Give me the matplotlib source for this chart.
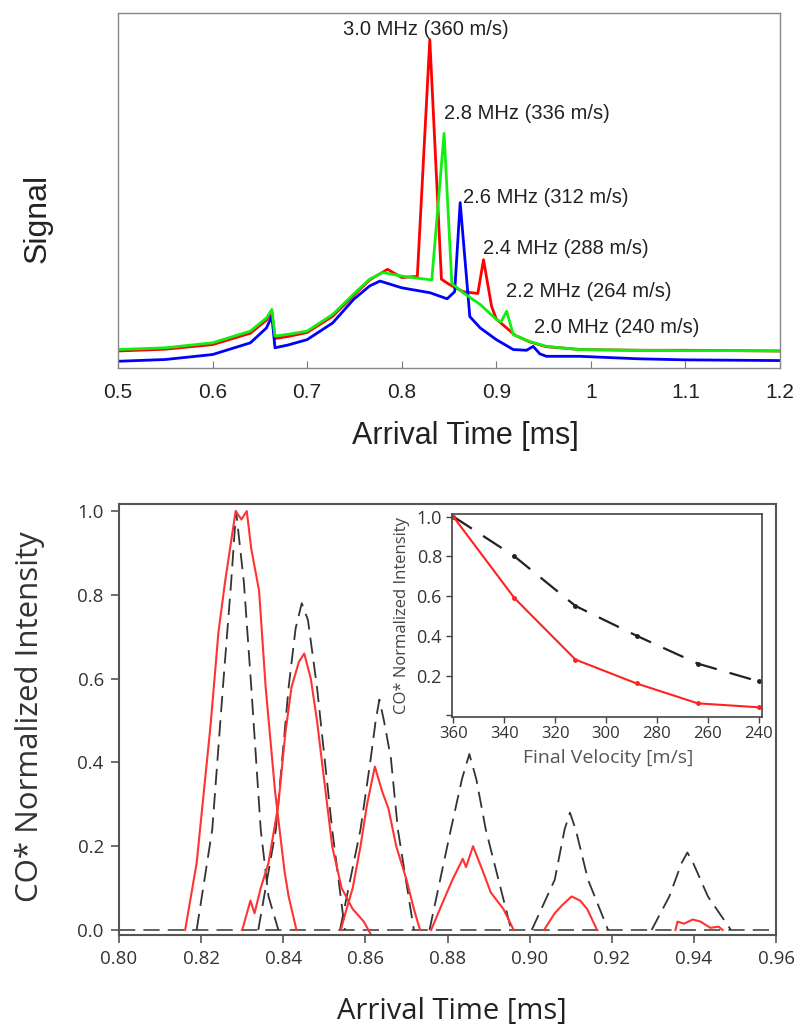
import numpy as np
import matplotlib
matplotlib.use('Agg')
import matplotlib.pyplot as plt

# ---- top panel: raw arrival-time traces (arb. units) ----
red_t = [0.50, 0.55, 0.60, 0.64, 0.657, 0.6627, 0.666, 0.68, 0.70, 0.727, 0.749, 0.766, 0.785, 0.80,
         0.8165, 0.8297, 0.842, 0.85, 0.865, 0.8805, 0.8865, 0.895, 0.90, 0.92, 0.935, 0.953, 0.99,
         1.05, 1.10, 1.15, 1.20]
red_s = [4.8, 5.3, 6.6, 9.8, 13.5, 15.8, 8.3, 8.9, 10.0, 14.6, 20.4, 24.8, 27.8, 25.5,
         25.8, 92.5, 25.0, 23.6, 21.5, 21.0, 30.5, 17.4, 13.8, 9.2, 7.4, 6.0, 5.2,
         5.0, 5.0, 4.9, 4.8]
green_t = [0.50, 0.55, 0.60, 0.64, 0.657, 0.6627, 0.666, 0.68, 0.70, 0.727, 0.749, 0.766, 0.78, 0.80,
           0.8318, 0.8448, 0.853, 0.865, 0.883, 0.90, 0.905, 0.911, 0.918, 0.935, 0.953, 0.988,
           1.05, 1.10, 1.15, 1.20]
green_s = [5.2, 5.7, 7.1, 10.4, 14.1, 16.5, 9.0, 9.5, 10.4, 15.1, 20.8, 25.0, 26.9, 25.9,
           24.8, 66.1, 23.8, 21.2, 17.9, 13.7, 13.0, 16.0, 9.4, 7.5, 6.1, 5.2,
           5.0, 4.9, 4.9, 4.8]
blue_t = [0.50, 0.55, 0.60, 0.64, 0.657, 0.6627, 0.666, 0.68, 0.70, 0.727, 0.749, 0.766, 0.777, 0.80,
          0.83, 0.848, 0.856, 0.8618, 0.872, 0.883, 0.90, 0.918, 0.932, 0.939, 0.946, 0.953, 0.988,
          1.05, 1.10, 1.15, 1.20]
blue_s = [1.9, 2.4, 3.8, 7.1, 11.3, 14.6, 5.7, 6.5, 8.0, 12.7, 19.3, 23.1, 24.5, 22.6,
          21.2, 19.5, 21.5, 46.6, 14.5, 11.3, 8.0, 5.2, 5.0, 6.1, 4.0, 3.3, 3.3,
          2.6, 2.3, 2.2, 2.1]
peak_labels = ['3.0 MHz (360 m/s)', '2.8 MHz (336 m/s)', '2.6 MHz (312 m/s)',
               '2.4 MHz (288 m/s)', '2.2 MHz (264 m/s)', '2.0 MHz (240 m/s)']
label_t = [0.7375, 0.8448, 0.8647, 0.8859, 0.910, 0.940]
label_s = [95.3, 71.8, 48.0, 33.7, 21.6, 11.5]

# ---- bottom panel: normalized CO* peaks (dashed = simulation, red = experiment) ----
sim_peaks = [
    ([0.8189, 0.8227, 0.8253, 0.8273, 0.8285, 0.8304, 0.8322, 0.8345, 0.8364, 0.8388],
     [0, 0.24, 0.58, 0.83, 1.0, 0.83, 0.58, 0.24, 0.08, 0]),
    ([0.8339, 0.8382, 0.8413, 0.843, 0.8445, 0.846, 0.8482, 0.8519, 0.855],
     [0, 0.24, 0.58, 0.72, 0.78, 0.74, 0.58, 0.24, 0]),
    ([0.8538, 0.8588, 0.8613, 0.8625, 0.8634, 0.8645, 0.8662, 0.8679, 0.8718],
     [0, 0.24, 0.41, 0.50, 0.55, 0.50, 0.41, 0.24, 0]),
    ([0.8756, 0.8808, 0.8835, 0.8853, 0.887, 0.8893, 0.8955],
     [0, 0.24, 0.36, 0.42, 0.36, 0.24, 0]),
    ([0.9005, 0.9061, 0.9085, 0.9098, 0.9112, 0.9142, 0.9191],
     [0, 0.12, 0.24, 0.28, 0.24, 0.12, 0]),
    ([0.9297, 0.934, 0.937, 0.9384, 0.9398, 0.9434, 0.949],
     [0, 0.08, 0.16, 0.185, 0.16, 0.08, 0]),
]
exp_peaks = [
    ([0.8161, 0.8189, 0.8223, 0.8242, 0.8258, 0.8284, 0.8298, 0.8311, 0.8322, 0.8341, 0.8357, 0.838,
      0.8403, 0.8413, 0.8432],
     [0, 0.16, 0.49, 0.71, 0.83, 1.0, 0.98, 1.0, 0.91, 0.81, 0.58, 0.33, 0.14, 0.08, 0]),
    ([0.830, 0.832, 0.833, 0.8345, 0.8364, 0.8388, 0.8405, 0.842, 0.8438, 0.8451, 0.8467, 0.8482,
      0.8503, 0.8519, 0.8542, 0.8569, 0.8596, 0.8613],
     [0, 0.07, 0.04, 0.10, 0.16, 0.30, 0.47, 0.58, 0.64, 0.66, 0.60, 0.50, 0.33, 0.20, 0.10, 0.05,
      0.02, -0.01]),
    ([0.854, 0.8554, 0.8569, 0.8588, 0.8604, 0.8623, 0.8641, 0.8656, 0.8675, 0.870, 0.8718, 0.8733],
     [0, 0.05, 0.10, 0.20, 0.30, 0.39, 0.33, 0.29, 0.20, 0.12, 0.05, 0]),
    ([0.876, 0.879, 0.8812, 0.8837, 0.8845, 0.8862, 0.8886, 0.8905, 0.8936, 0.8961],
     [0, 0.07, 0.12, 0.17, 0.15, 0.20, 0.14, 0.09, 0.05, 0]),
    ([0.9035, 0.9061, 0.908, 0.9102, 0.9123, 0.914, 0.9164],
     [0, 0.04, 0.06, 0.08, 0.07, 0.05, 0]),
    ([0.9355, 0.936, 0.9376, 0.9397, 0.9416, 0.944, 0.946, 0.947],
     [0, 0.02, 0.015, 0.025, 0.02, 0.005, 0.008, 0]),
]

# ---- inset ----
velocity = [360, 336, 312, 288, 264, 240]
exp_int = [1.0, 0.59, 0.28, 0.16, 0.06, 0.04]
sim_int = [1.0, 0.80, 0.55, 0.40, 0.26, 0.17]

fig = plt.figure(figsize=(8, 10.26), dpi=100)

arial = 'Liberation Sans'
myriad = 'Open Sans'

# top
ax1 = fig.add_axes([0.1475, 0.6413, 0.8275, 0.3460])
ax1.plot(red_t, red_s, color='#ff0000', lw=2.0)
ax1.plot(blue_t, blue_s, color='#0000ff', lw=2.0)
ax1.plot(green_t, green_s, color='#11ee11', lw=2.0)
for txt, t, s in zip(peak_labels, label_t, label_s):
    ax1.text(t, s, txt, ha='left', va='center', fontsize=14.5, family=arial, color='#222222')
ax1.set_xlim(0.5, 1.2)
ax1.set_ylim(0, 100)
ax1.set_xticks([0.5, 0.6, 0.7, 0.8, 0.9, 1.0, 1.1, 1.2])
ax1.set_xticklabels(['0.5', '0.6', '0.7', '0.8', '0.9', '1', '1.1', '1.2'], family=arial, fontsize=15)
ax1.set_yticks([])
ax1.tick_params(axis='x', direction='in', length=5, color='#777777', pad=11, labelcolor='#222222')
for sp in ax1.spines.values():
    sp.set_color('#888888')
    sp.set_linewidth(1.0)
fig.text(38 / 800, 1 - 218 / 1026, 'Signal', rotation=90, ha='center', va='center',
         fontsize=23, family=arial, color='#222222')
fig.text(465 / 800, 1 - 436 / 1026, 'Arrival Time [ms]', ha='center', va='center',
         fontsize=22, family=arial, color='#222222')

# bottom
ax2 = fig.add_axes([0.1488, 0.0887, 0.8213, 0.4201])
ax2.plot([0.80, 0.96], [0, 0], color='#555555', lw=1.3, dashes=(9, 4.5))
for xs, ys in sim_peaks:
    ax2.plot(xs, ys, color='#333333', lw=1.3, dashes=(9, 4.5))
for xs, ys in exp_peaks:
    ax2.plot(xs, ys, color='#ff3333', lw=1.5)
ax2.set_xlim(0.80, 0.96)
ax2.set_ylim(-0.012, 1.017)
ax2.set_xticks(np.arange(0.80, 0.9601, 0.02))
ax2.set_xticklabels(['%.2f' % v for v in np.arange(0.80, 0.9601, 0.02)], family=myriad, fontsize=13.5)
ax2.set_yticks([0.0, 0.2, 0.4, 0.6, 0.8, 1.0])
ax2.set_yticklabels(['0.0', '0.2', '0.4', '0.6', '0.8', '1.0'], family=myriad, fontsize=13.5)
ax2.tick_params(direction='out', length=6, width=1.2, color='#555555', labelcolor='#333333', pad=5)
for sp in ax2.spines.values():
    sp.set_color('#555555')
    sp.set_linewidth(1.5)
fig.text(30 / 800, 1 - 717 / 1026, 'CO* Normalized Intensity', rotation=90, ha='center', va='center',
         fontsize=22.5, family=myriad, color='#333333')
fig.text(452 / 800, 1 - 1011 / 1026, 'Arrival Time [ms]', ha='center', va='center',
         fontsize=21, family=myriad, color='#222222')

# inset
ax3 = fig.add_axes([0.5646, 0.3015, 0.3875, 0.1976])
ax3.plot(velocity, sim_int, color='#222222', lw=1.6, dashes=(10, 6), marker='o', ms=2.5)
ax3.plot(velocity, exp_int, color='#ff2222', lw=1.5, marker='o', ms=2.5)
ax3.set_xlim(360.6, 238.9)
ax3.set_ylim(-0.007, 1.013)
ax3.set_xticks([360, 340, 320, 300, 280, 260, 240])
ax3.set_xticklabels(['360', '340', '320', '300', '280', '260', '240'], family=myriad, fontsize=12)
ax3.set_yticks([0.0, 0.2, 0.4, 0.6, 0.8, 1.0])
ax3.set_yticklabels(['', '0.2', '0.4', '0.6', '0.8', '1.0'], family=myriad, fontsize=13)
ax3.tick_params(direction='out', length=4, width=1.0, color='#444444', labelcolor='#333333', pad=3)
for sp in ax3.spines.values():
    sp.set_color('#444444')
    sp.set_linewidth(1.2)
fig.text(402 / 800, 1 - 616 / 1026, 'CO* Normalized Intensity', rotation=90, ha='center', va='center',
         fontsize=12, family=myriad, color='#444444')
fig.text(608 / 800, 1 - 758 / 1026, 'Final Velocity [m/s]', ha='center', va='center',
         fontsize=14, family=myriad, color='#555555')

fig.savefig('out.png', dpi=100)
